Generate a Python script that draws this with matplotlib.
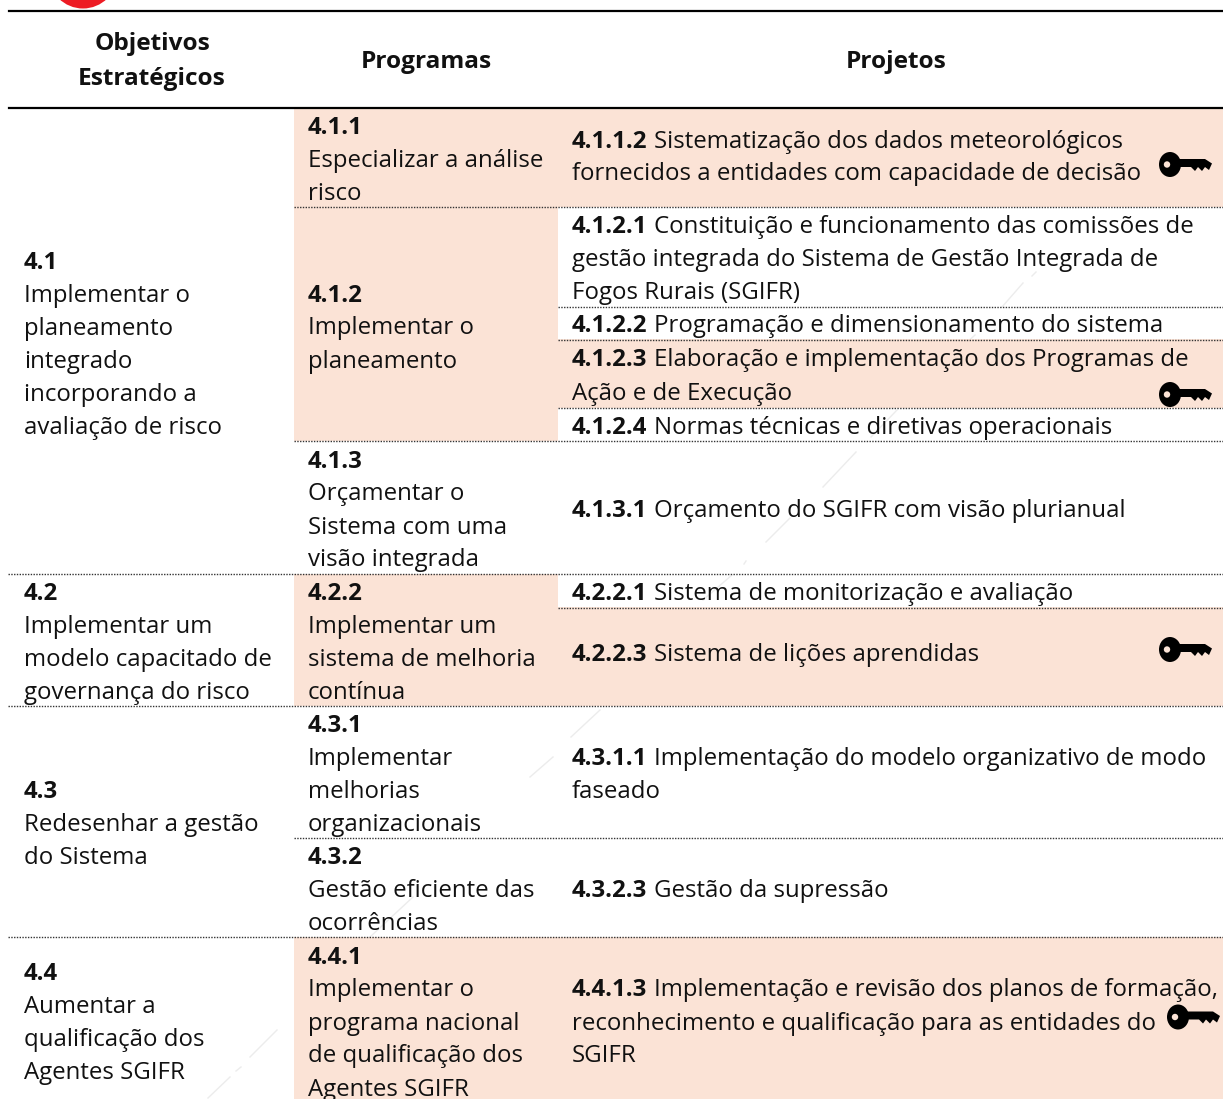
import matplotlib
matplotlib.use("Agg")
import matplotlib.pyplot as plt
from matplotlib.patches import Rectangle, Ellipse, Circle, Polygon

FONT = "Open Sans"
FS = 17.25
LINE_H = 33
FILL = "#fbe3d6"

headers = [("Objetivos\nEstratégicos", 152), ("Programas", 426), ("Projetos", 896)]

# (top, bottom, bold, lines)
objetivos = [
    (108, 576, "4.1", ["Implementar o", "planeamento", "integrado", "incorporando a", "avaliação de risco"]),
    (574, 706, "4.2", ["Implementar um", "modelo capacitado de", "governança do risco"]),
    (706, 937, "4.3", ["Redesenhar a gestão", "do Sistema"]),
    (937, 1103, "4.4", ["Aumentar a", "qualificação dos", "Agentes SGIFR"]),
]

# (top, bottom, bold, lines, filled)
programas = [
    (108, 207, "4.1.1", ["Especializar a análise", "risco"], True),
    (207, 441, "4.1.2", ["Implementar o", "planeamento"], True),
    (441, 574, "4.1.3", ["Orçamentar o", "Sistema com uma", "visão integrada"], False),
    (574, 706, "4.2.2", ["Implementar um", "sistema de melhoria", "contínua"], True),
    (706, 838, "4.3.1", ["Implementar", "melhorias", "organizacionais"], False),
    (838, 937, "4.3.2", ["Gestão eficiente das", "ocorrências"], False),
    (937, 1103, "4.4.1", ["Implementar o", "programa nacional", "de qualificação dos", "Agentes SGIFR"], True),
]

# (top, bottom, bold, first line after bold, other lines, filled, key height)
projetos = [
    (108, 207, "4.1.1.2", "Sistematização dos dados meteorológicos",
     ["fornecidos a entidades com capacidade de decisão"], True, 164.5),
    (207, 306, "4.1.2.1", "Constituição e funcionamento das comissões de",
     ["gestão integrada do Sistema de Gestão Integrada de", "Fogos Rurais (SGIFR)"], False, None),
    (306, 339, "4.1.2.2", "Programação e dimensionamento do sistema", [], False, None),
    (339, 408, "4.1.2.3", "Elaboração e implementação dos Programas de",
     ["Ação e de Execução"], True, 394.5),
    (408, 441, "4.1.2.4", "Normas técnicas e diretivas operacionais", [], False, None),
    (441, 574, "4.1.3.1", "Orçamento do SGIFR com visão plurianual", [], False, None),
    (574, 607, "4.2.2.1", "Sistema de monitorização e avaliação", [], False, None),
    (607, 706, "4.2.2.3", "Sistema de lições aprendidas", [], True, 649.5),
    (706, 838, "4.3.1.1", "Implementação do modelo organizativo de modo",
     ["faseado"], False, None),
    (838, 937, "4.3.2.3", "Gestão da supressão", [], False, None),
    (937, 1103, "4.4.1.3", "Implementação e revisão dos planos de formação,",
     ["reconhecimento e qualificação para as entidades do", "SGIFR"], True, 1017),
]

# texts that do not sit in the exact middle of their cell
nudge = {"4.1.1.2": -3, "4.2.2.3": -5, "4.1.2": 1}

# key head position: the last one runs off the right edge
key_x = {"4.4.1.3": 1167}

# faint scratches in the background of the page
scratches = [
    (1036, 272, 1032, 276), (1023, 283, 1002, 307), (975, 335, 962, 347),
    (897, 410, 871, 437), (856, 452, 823, 487), (790, 518, 766, 542),
    (746, 561, 744, 564), (732, 575, 703, 600), (600, 710, 571, 737),
    (553, 757, 530, 777), (413, 897, 370, 937), (277, 1030, 250, 1057),
    (241, 1067, 236, 1071), (230, 1077, 208, 1098),
]

fig = plt.figure(figsize=(12.23, 10.99), dpi=100)
ax = fig.add_axes([0, 0, 1, 1])
ax.set_xlim(0, 1223)
ax.set_ylim(1099, 0)
ax.axis("off")
renderer = fig.canvas.get_renderer()


def draw_key(x, y):
    # x, y = left end of the key's head, at mid height
    ax.add_patch(Polygon([(x + 18, y - 5.5), (x + 46, y - 5.5), (x + 53, y - 1),
                          (x + 50, y + 5.5), (x + 46, y + 2.5), (x + 43, y + 6.5),
                          (x + 39, y + 2.5), (x + 36, y + 6.5), (x + 32, y + 2.5),
                          (x + 18, y + 2.5)],
                         color="black", lw=0, zorder=4))
    ax.add_patch(Ellipse((x + 11, y), 22, 25, color="black", lw=0, zorder=4))
    ax.add_patch(Circle((x + 8, y), 3.2, color=FILL, lw=0, zorder=5))


def cell_text(x, top, bottom, bold, first, lines):
    n = len(lines) + 1
    y = (top + bottom) / 2 - n * LINE_H / 2 + 26 + nudge.get(bold, 0)
    t = ax.text(x, y, bold, fontfamily=FONT, fontsize=FS, fontweight="bold",
                va="baseline", color="#111111", zorder=3)
    if first:
        w = t.get_window_extent(renderer).width
        ax.text(x + w + 7, y, first, fontfamily=FONT, fontsize=FS,
                va="baseline", color="#111111", zorder=3)
    for i, line in enumerate(lines):
        ax.text(x, y + (i + 1) * LINE_H, line, fontfamily=FONT, fontsize=FS,
                va="baseline", color="#111111", zorder=3)


def dotted(x0, x1, y):
    ax.plot([x0, x1], [y, y], color="#333333", lw=1.0, ls=(0, (1, 1)), zorder=2)


# red circle cut by the top of the picture
ax.add_patch(Circle((83, -26), 34.5, color="#ed1c24", lw=0, zorder=1))

for x0, y0, x1, y1 in scratches:
    ax.plot([x0, x1], [y0, y1], color="#ececec", lw=1, zorder=1)

for top, bottom, bold, lines, filled in programas:
    if filled:
        ax.add_patch(Rectangle((294, top), 264, bottom - top, color=FILL, lw=0, zorder=1))
    cell_text(308, top, bottom, bold, None, lines)

for top, bottom, bold, first, lines, filled, key in projetos:
    if filled:
        ax.add_patch(Rectangle((558, top), 665, bottom - top, color=FILL, lw=0, zorder=1))
    cell_text(572, top, bottom, bold, first, lines)
    if key:
        draw_key(key_x.get(bold, 1159), key)

for top, bottom, bold, lines in objetivos:
    cell_text(24, top, bottom, bold, None, lines)

# header
ax.plot([9, 1223], [10.5, 10.5], color="black", lw=1.6, zorder=3)
ax.plot([9, 1223], [108, 108], color="black", lw=1.6, zorder=3)
for label, x in headers:
    ax.text(x, 61.5, label, fontfamily=FONT, fontsize=17.6, fontweight="bold",
            ha="center", va="center", linespacing=1.6, color="#111111")

# row rules
for y in [574, 706, 937]:
    dotted(8, 1223, y)
for y in [207, 441, 838]:
    dotted(294, 1223, y)
for y in [306.5, 340, 407.5, 607.5]:
    dotted(558, 1223, y)

fig.savefig("out.png", dpi=100)
